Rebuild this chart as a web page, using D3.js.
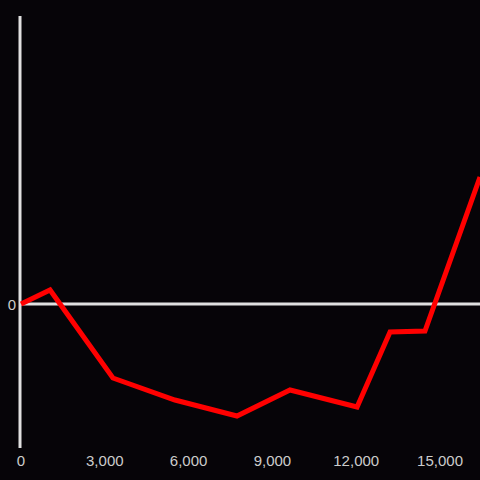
<!DOCTYPE html>
<html>
<head>
<meta charset="utf-8">
<script src="https://cdn.jsdelivr.net/npm/d3@7"></script>
<style>
body { margin: 0; background: #060408; }
svg { display: block; }
</style>
</head>
<body>
<div id="chart"></div>
<script>
var xValues = [0, 1040, 3290, 5510, 7730, 9630, 12030, 13210, 14460, 16430];
var yValues = [0, 14, -74, -96, -112, -86, -103, -28, -27, 127];
var xTicks = [0, 3000, 6000, 9000, 12000, 15000];
var yTicks = [0];

var width = 480, height = 480;

var svg = d3.select("#chart").append("svg")
    .attr("width", width)
    .attr("height", height)
    .style("background", "#060408");

var x = d3.scaleLinear().domain([0, 16430]).range([21, 480]);
var y = d3.scaleLinear().domain([-144, 288]).range([448, 16]);

// zero line
svg.append("line")
    .attr("x1", 20).attr("x2", width)
    .attr("y1", y(0)).attr("y2", y(0))
    .attr("stroke", "#e0e0e0")
    .attr("stroke-width", 3);

// y axis line
svg.append("line")
    .attr("x1", 20).attr("x2", 20)
    .attr("y1", 16).attr("y2", 448)
    .attr("stroke", "#e0e0e0")
    .attr("stroke-width", 3);

// x tick labels
svg.append("g").selectAll("text")
    .data(xTicks)
    .enter().append("text")
    .attr("x", function (d) { return x(d); })
    .attr("y", 466)
    .attr("text-anchor", "middle")
    .attr("fill", "#cccccc")
    .style("font-family", "Liberation Sans, Arial, sans-serif")
    .style("font-size", "15px")
    .text(d3.format(","));

// y tick labels
svg.append("g").selectAll("text")
    .data(yTicks)
    .enter().append("text")
    .attr("x", 16)
    .attr("y", function (d) { return y(d) + 6; })
    .attr("text-anchor", "end")
    .attr("fill", "#cccccc")
    .style("font-family", "Liberation Sans, Arial, sans-serif")
    .style("font-size", "15px")
    .text(d3.format(","));

var line = d3.line()
    .x(function (d) { return x(d[0]); })
    .y(function (d) { return y(d[1]); });

svg.append("path")
    .datum(d3.zip(xValues, yValues))
    .attr("d", line)
    .attr("fill", "none")
    .attr("stroke", "#ff0000")
    .attr("stroke-width", 5)
    .attr("stroke-linejoin", "miter");
</script>
</body>
</html>
